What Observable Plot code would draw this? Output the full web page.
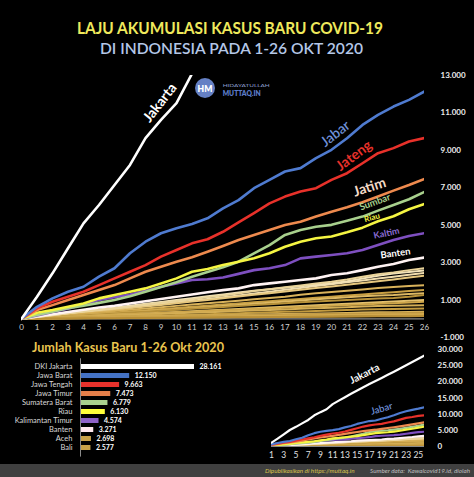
<!DOCTYPE html>
<html><head><meta charset="utf-8">
<script src="https://cdn.jsdelivr.net/npm/d3@7"></script>
<script src="https://cdn.jsdelivr.net/npm/@observablehq/plot@0.6"></script>
<style>
html,body{margin:0;padding:0;background:#000;}
#root{position:relative;width:474px;height:477px;background:#000;overflow:hidden;font-family:Lato,"Open Sans",sans-serif;}
.abs{position:absolute;}
.abs svg, svg.abs{overflow:visible;}
#footer{position:absolute;left:0;top:464px;width:474px;height:13px;background:#404040;}
#footer span{position:absolute;top:0;line-height:13px;font-size:6.3px;font-style:italic;white-space:nowrap;}
</style></head><body>
<div id="root">
  <svg class="abs" style="left:0;top:0" width="474" height="100" font-family="Lato, 'Open Sans', sans-serif">
    <text x="230" y="27" text-anchor="middle" dominant-baseline="central" textLength="306" lengthAdjust="spacingAndGlyphs" fill="#EFE95C" font-size="17" font-weight="700">LAJU AKUMULASI KASUS BARU COVID-19</text>
    <text x="231.5" y="47.7" text-anchor="middle" dominant-baseline="central" textLength="263" lengthAdjust="spacingAndGlyphs" fill="#B4C7E7" font-size="16" font-weight="600">DI INDONESIA PADA 1-26 OKT 2020</text>
    <circle cx="205" cy="88" r="10" fill="#6580C4"></circle>
    <text x="205" y="88.5" text-anchor="middle" dominant-baseline="central" fill="#fff" font-size="8.5" font-weight="800">HM</text>
    <text x="222.7" y="85" dominant-baseline="central" textLength="47" lengthAdjust="spacingAndGlyphs" fill="#8C9DCF" font-size="4.5">HIDAYATULLAH</text>
    <text x="222.7" y="92.5" dominant-baseline="central" textLength="38" lengthAdjust="spacingAndGlyphs" fill="#5C7CC8" font-size="7" font-weight="800">MUTTAQ.IN</text>
    <text x="128" y="347" text-anchor="middle" dominant-baseline="central"></text>
  </svg>
  <div id="main" class="abs" style="left:0;top:60px"></div>
  <div class="abs" style="left:32px;top:338px;width:192px;height:18px;">
    <svg width="192" height="18" font-family="Lato, 'Open Sans', sans-serif"><text x="0" y="9" dominant-baseline="central" textLength="192" lengthAdjust="spacingAndGlyphs" fill="#EAC54F" font-size="13.5" font-weight="700">Jumlah Kasus Baru 1-26 Okt 2020</text></svg>
  </div>
  <div id="bars" class="abs" style="left:0;top:355px"></div>
  <div id="small" class="abs" style="left:260px;top:340px"></div>
  <div id="footer">
    <span style="left:265px;color:#D9C34C;">Dipublikasikan di https://muttaq.in</span>
    <span style="left:370px;color:#BFBFBF;">Sumber data:&nbsp; Kawalcovid19.id, diolah</span>
  </div>
</div>
<script>
// ---------- DATA ----------
const days = [0,1,2,3,4,5,6,7,8,9,10,11,12,13,14,15,16,17,18,19,20,21,22,23,24,25,26];
const jakarta = [0,1180,2430,3770,5100,6080,7150,8220,9650,10630,11520,13100,14200,15250,16300,17300,18300,19300,20250,21200,22200,23150,24150,25150,26150,27150,28161];
const jabar = [0,640,1090,1445,1710,2250,2700,3500,4120,4570,4840,5070,5370,5900,6340,6980,7420,7870,8050,8580,9030,9650,10360,10900,11340,11700,12150];
const jateng = [0,555,910,1180,1445,1800,2160,2510,2870,3320,3675,4030,4250,4650,5150,5650,6170,6530,6800,6980,7420,7780,8310,8850,9120,9470,9663];
const jatim = [0,465,730,1000,1270,1535,1800,2160,2510,2780,3050,3285,3585,3890,4210,4480,4745,5010,5190,5460,5725,5960,6230,6530,6850,7150,7473];
const sumbar = [0,200,380,560,700,850,1000,1200,1450,1700,1950,2250,2500,2750,3050,3500,3940,4480,4745,4920,5020,5240,5460,5780,6080,6390,6779];
const riau = [0,320,465,640,820,1090,1270,1445,1625,1890,2160,2510,2660,2870,3050,3230,3500,3850,4120,4300,4400,4620,4870,5210,5480,5850,6130];
const kaltim = [0,180,360,540,760,1000,1150,1300,1500,1710,1890,2070,2110,2210,2400,2600,2700,2870,3230,3320,3410,3500,3675,3940,4210,4420,4574];
const banten = [0,120,240,360,480,600,700,820,940,1060,1180,1300,1420,1530,1625,1800,1890,1980,2070,2160,2340,2430,2600,2780,2930,3140,3271];
const aceh = [0,90,190,290,390,480,560,650,760,860,950,1050,1150,1250,1350,1480,1580,1680,1780,1880,1980,2100,2250,2380,2480,2600,2698];
const bali = [0,100,200,300,400,500,600,700,800,900,1000,1100,1200,1300,1400,1500,1580,1660,1740,1820,1900,2000,2150,2300,2420,2500,2577];
const provinsiLain = [
  [0,80,170,260,350,440,530,620,700,790,880,970,1060,1150,1250,1350,1450,1550,1650,1750,1850,1950,2050,2150,2250,2350,2450],
  [0,70,150,230,310,390,470,560,650,740,830,920,1010,1100,1190,1280,1370,1460,1550,1640,1730,1820,1910,2000,2100,2200,2300],
  [0,60,130,200,270,340,410,480,550,620,690,760,830,900,970,1040,1110,1180,1290,1360,1430,1500,1570,1640,1700,1750,1800],
  [0,55,110,165,220,280,340,400,460,520,580,640,700,760,820,880,940,1000,1060,1120,1180,1240,1300,1360,1420,1480,1535],
  [0,50,100,150,200,250,300,350,400,450,500,560,620,680,740,800,860,920,980,1040,1100,1150,1200,1240,1270,1320,1360],
  [0,40,80,130,180,230,280,330,380,430,480,530,580,630,680,730,780,830,880,930,970,1010,1050,1080,1110,1180,1270],
  [0,35,70,105,140,175,210,245,280,320,360,400,440,480,520,560,600,640,680,720,760,800,840,880,920,960,1000],
  [0,30,65,100,135,170,205,240,275,310,345,380,415,450,485,520,555,590,625,660,695,730,765,800,835,870,910],
  [0,25,50,80,110,140,170,200,230,260,290,320,350,380,410,440,470,500,530,560,590,620,650,680,700,715,730],
  [0,20,40,60,80,100,120,140,160,180,200,220,245,270,295,320,345,370,395,420,445,470,490,510,525,540,555],
  [0,15,30,45,60,75,90,105,120,135,150,165,180,195,210,225,240,255,270,285,300,315,330,345,355,365,375],
  [0,12,25,38,50,62,75,88,100,112,125,138,150,162,175,188,200,212,225,238,250,262,275,288,300,312,325],
  [0,10,20,30,40,50,60,70,80,90,100,110,120,130,140,150,160,170,180,190,200,210,220,230,238,244,250],
  [0,8,16,24,30,36,42,48,54,60,66,72,78,84,90,96,102,108,114,120,126,132,138,144,150,156,160],
  [0,5,10,16,22,28,34,40,46,52,58,64,70,76,82,88,94,100,106,112,118,124,130,134,138,142,145]
];
const barCats = ["DKI Jakarta","Jawa Barat","Jawa Tengah","Jawa Timur","Sumatera Barat","Riau","Kalimantan Timur","Banten","Aceh","Bali"];
const barVals = [28161,12150,9663,7473,6779,6130,4574,3271,2698,2577];
const yTicksMain = [-1000,1000,3000,5000,7000,9000,11000,13000];
const yTicksSmall = [0,5000,10000,15000,20000,25000,30000];
const xTicksSmall = [1,3,5,7,9,11,13,15,17,19,21,23,25];

// ---------- STYLE ----------
const C = {
  jakarta:"#FFFFFF", jabar:"#4F7BD0", jateng:"#E8312A", jatim:"#EE8A4E", sumbar:"#A8D08D",
  riau:"#F5F542", kaltim:"#7E4FC0", banten:"#FFF3F3", aceh:"#EAD49A", bali:"#F2E2B8"
};
const gold = ["#F1DDAE","#E6C77E","#D9B25A","#C9A043","#DDB862","#B8923A","#E3C06C","#CFA64A","#D4AE55","#C39B3F","#DAB45C","#BE9640","#D1A84D","#C8A24A","#B98F36"];
const barColor = {"DKI Jakarta":"#FFFFFF","Jawa Barat":"#4472C4","Jawa Tengah":"#E8322C","Jawa Timur":"#E57F4A","Sumatera Barat":"#A9D18E","Riau":"#FFFF3B","Kalimantan Timur":"#8E62C8","Banten":"#FFE8EE","Aceh":"#C9A248","Bali":"#C9A248"};
const FONT = "Lato, 'Open Sans', sans-serif";

const loc = d3.formatLocale({decimal:",", thousands:".", grouping:[3], currency:["",""], minus:"-"});
const fmt = loc.format(",d");

const named = [
  [banten, C.banten], [kaltim, C.kaltim], [sumbar, C.sumbar], [riau, C.riau],
  [jatim, C.jatim], [jateng, C.jateng], [jabar, C.jabar], [jakarta, C.jakarta]
];
const lowers = [...provinsiLain.map((a,i)=>[a, gold[i % gold.length]]), [bali, C.bali], [aceh, C.aceh]];

function lineMarks(from, wGold, wMain) {
  const sl = a => a.slice(from);
  const xs = days.slice(from);
  return [
    ...lowers.map(([a,c]) => Plot.line(sl(a), {x: xs, y: sl(a), stroke: c, strokeWidth: wGold, clip: true, strokeLinejoin:"round"})),
    ...named.map(([a,c]) => Plot.line(sl(a), {x: xs, y: sl(a), stroke: c, strokeWidth: wMain, clip: true, strokeLinejoin:"round"}))
  ];
}
function label(txt, arr, day, o) {
  return Plot.text([txt], {x: [day], y: [arr[day]], text: d => d, fontFamily: FONT, ...o});
}

// ---------- MAIN CHART ----------
const main = Plot.plot({
  width: 474, height: 290,
  marginLeft: 21, marginRight: 50, marginTop: 15, marginBottom: 13,
  style: {background: "transparent", color: "#fff", fontFamily: FONT, overflow: "visible"},
  x: {domain: [0, 26]},
  y: {domain: [-1000, 13000]},
  marks: [
    Plot.ruleY([0], {stroke: "#8a8a8a", strokeWidth: 1.2}),
    Plot.axisY(yTicksMain, {anchor: "right", tickSize: 0, tickPadding: 16, tickFormat: fmt, fontSize: 8, fontWeight: 700, fill: "#ececec", label: null}),
    Plot.axisX(days, {anchor: "bottom", tickSize: 0, tickPadding: 0, dy: -13, fontSize: 8, fill: "#d0d0d0", label: null}),
    ...lineMarks(0, 2, 2.6),
    label("Jakarta", jakarta, 9, {dx: -1, dy: -17, rotate: -52, fill: C.jakarta, fontSize: 14, fontWeight: 700}),
    label("Jabar", jabar, 20, {dx: 4, dy: -16, rotate: -38, fill: "#6F90D8", fontSize: 14, fontWeight: 600}),
    label("Jateng", jateng, 21, {dx: 7, dy: -17.5, rotate: -37, fill: C.jateng, fontSize: 14, fontWeight: 700}),
    label("Jatim", jatim, 22, {dx: 7, dy: -15, rotate: -18, fill: "#F3D9C6", fontSize: 14, fontWeight: 700}),
    label("Sumbar", sumbar, 23, {dx: -3, dy: -8.4, rotate: -20, fill: C.sumbar, fontSize: 9.5, fontWeight: 700}),
    label("Riau", riau, 23, {dx: -6, dy: -3.6, rotate: -15, fill: C.riau, fontSize: 8, fontWeight: 700}),
    label("Kaltim", kaltim, 24, {dx: -7, dy: -6.7, rotate: -12, fill: "#8B6CD4", fontSize: 9, fontWeight: 700}),
    label("Banten", banten, 24, {dx: 2, dy: -10.6, rotate: -8, fill: "#FFFFFF", fontSize: 9.5, fontWeight: 700})
  ]
});
document.getElementById("main").appendChild(main);

// ---------- BAR CHART ----------
const bars = Plot.plot({
  width: 260, height: 105,
  marginLeft: 80, marginRight: 66, marginTop: 3.3, marginBottom: 3.4,
  style: {background: "transparent", color: "#d9d9d9", fontFamily: FONT, overflow: "visible"},
  x: {domain: [0, 28161], axis: null},
  y: {domain: barCats, paddingInner: 0.39, paddingOuter: 0.2, axis: null},
  color: {type: "identity"},
  marks: [
    Plot.barX(barVals, {x: barVals, y: barCats, fill: (d, i) => barColor[barCats[i]]}),
    Plot.ruleX([0], {stroke: "#8a8a8a", strokeWidth: 1}),
    Plot.axisY(barCats, {anchor: "left", tickSize: 0, tickPadding: 8, fontSize: 7.5, fill: "#d9d9d9", label: null}),
    Plot.text(barVals, {x: barVals, y: barCats, text: d => fmt(d), dx: 5, textAnchor: "start", fill: "#fff", fontWeight: 700, fontSize: 7})
  ]
});
document.getElementById("bars").appendChild(bars);

// ---------- SMALL CHART ----------
const small = Plot.plot({
  width: 214, height: 125,
  marginLeft: 11, marginRight: 50, marginTop: 9, marginBottom: 19,
  style: {background: "transparent", color: "#fff", fontFamily: FONT, overflow: "visible"},
  x: {domain: [1, 26]},
  y: {domain: [0, 30000]},
  marks: [
    Plot.ruleY([0], {stroke: "#8a8a8a", strokeWidth: 1}),
    Plot.axisY(yTicksSmall, {anchor: "right", tickSize: 0, tickPadding: 13, tickFormat: fmt, fontSize: 8, fontWeight: 700, fill: "#ececec", label: null}),
    Plot.axisX(xTicksSmall, {anchor: "bottom", tickSize: 0, tickPadding: 5, fontSize: 8.5, fill: "#e0e0e0", label: null}),
    ...lineMarks(1, 1.8, 2.2),
    label("Jakarta", jakarta, 16, {dx: 1.3, dy: -13.4, rotate: -27, fill: "#fff", fontSize: 10, fontWeight: 700}),
    label("Jabar", jabar, 19, {dx: 0, dy: -10, rotate: -16, fill: "#6F90D8", fontSize: 9.5, fontWeight: 600})
  ]
});
document.getElementById("small").appendChild(small);
</script>
</body></html>
